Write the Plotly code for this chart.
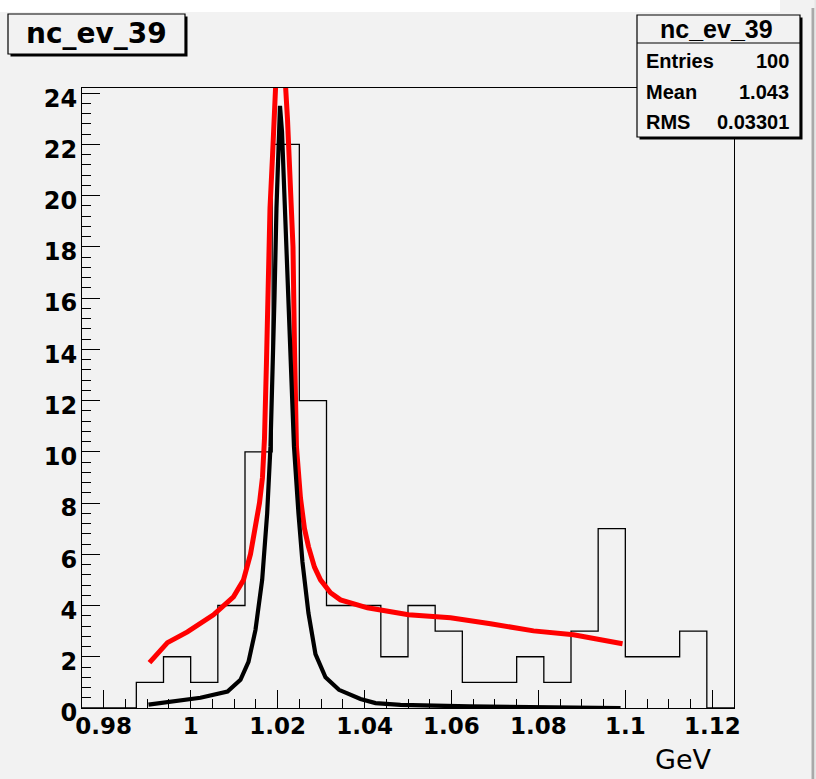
import plotly.graph_objects as go

# ---------------- data ----------------
hist_low = 0.975
hist_bin_width = 0.00625
hist_counts = [0, 0, 1, 2, 1, 4, 10, 22, 12, 4, 4, 2, 4, 3, 1, 1, 2, 1, 3, 7, 2, 2, 3, 0]

red_x = [0.99052, 0.99466, 0.99926, 1.00524, 1.00985, 1.01215, 1.01376, 1.01491,
         1.01583, 1.01652, 1.01698, 1.01744, 1.01778, 1.01825, 1.01882, 1.01928,
         1.01974, 1.02066, 1.02158, 1.02227, 1.02296, 1.02354, 1.02388, 1.02434,
         1.02526, 1.02618, 1.02710, 1.02848, 1.02987, 1.03217, 1.03447, 1.04068,
         1.05012, 1.05978, 1.06899, 1.07888, 1.08808, 1.09936]
red_y = [1.77, 2.55, 2.97, 3.64, 4.34, 5.0, 6.0, 7.0,
         8.0, 9.0, 10.5, 13.5, 17.0, 19.5, 21.5, 23.5,
         25.0, 26.5, 25.0, 23.0, 20.6, 18.0, 14.1, 10.2,
         8.2, 7.0, 6.3, 5.5, 5.0, 4.5, 4.22, 3.91,
         3.64, 3.52, 3.29, 3.01, 2.86, 2.51]

black_x = [0.99029, 1.00225, 1.00847, 1.01146, 1.01330, 1.01491, 1.01645, 1.01760,
           1.01836, 1.01882, 1.01928, 1.01974, 1.02020, 1.02055, 1.02101, 1.02158,
           1.02227, 1.02296, 1.02342, 1.02377, 1.02480, 1.02572, 1.02710, 1.02871,
           1.03102, 1.03412, 1.03907, 1.04252, 1.04827, 1.06415, 1.09890]
black_y = [0.13, 0.40, 0.64, 1.1, 1.8, 3.05, 5.0, 7.6,
           10.2, 12.8, 16.0, 19.5, 22.5, 23.5, 22.5, 20.0,
           16.5, 13.5, 12.0, 10.2, 7.6, 5.7, 3.7, 2.1,
           1.2, 0.71, 0.35, 0.19, 0.12, 0.06, 0.0]

x_tick_vals = [0.98, 1.0, 1.02, 1.04, 1.06, 1.08, 1.1, 1.12]
x_tick_text = ["0.98", "1", "1.02", "1.04", "1.06", "1.08", "1.1", "1.12"]
y_tick_vals = [0, 2, 4, 6, 8, 10, 12, 14, 16, 18, 20, 22, 24]

title_text = "nc_ev_39"
stats_labels = ["Entries", "Mean", "RMS"]
stats_values = ["100", "1.043", "0.03301"]
x_title = "GeV"

x_range = [0.975, 1.125]
y_range = [0, 24.2]

# ---------------- layout geometry ----------------
W, H = 816, 779
ML, MR, MT, MB = 82, 82, 88, 71
PW = W - ML - MR
PH = H - MT - MB


def px(x):
    return (x - ML) / PW


def py(y):
    return (H - MB - y) / PH


edges = [hist_low + hist_bin_width * k for k in range(len(hist_counts) + 1)]
hist_y = hist_counts + [hist_counts[-1]]

fig = go.Figure()
fig.add_trace(go.Scatter(x=edges, y=hist_y, mode="lines", line_shape="hv",
                         line=dict(color="black", width=1.3), hoverinfo="skip",
                         showlegend=False))
fig.add_trace(go.Scatter(x=red_x, y=red_y, mode="lines",
                         line=dict(color="#ff0000", width=5),
                         showlegend=False))
fig.add_trace(go.Scatter(x=black_x, y=black_y, mode="lines",
                         line=dict(color="black", width=4.2),
                         showlegend=False))

BG = "#f2f2f2"
ytickfont = dict(family="DejaVu Sans", size=24, color="black", weight="bold")
xtickfont = dict(family="DejaVu Sans", size=23, color="black", weight="bold")

shapes = []
# white strip at top
shapes.append(dict(type="rect", xref="paper", yref="paper", x0=px(0), x1=px(780),
                   y0=py(0), y1=py(12), fillcolor="white", line=dict(width=0), layer="below"))
# right border band
shapes.append(dict(type="rect", xref="paper", yref="paper", x0=px(811.5), x1=px(814.5),
                   y0=py(8), y1=py(779), fillcolor="#a9a9a9", line=dict(width=0), layer="below"))
shapes.append(dict(type="rect", xref="paper", yref="paper", x0=px(814.5), x1=px(816),
                   y0=py(0), y1=py(779), fillcolor="#e6e6e6", line=dict(width=0), layer="below"))


def box(x0, y0, x1, y1, sh=2.5):
    shapes.append(dict(type="rect", xref="paper", yref="paper", x0=px(x0 + sh), x1=px(x1 + sh),
                       y0=py(y0 + sh), y1=py(y1 + sh), fillcolor="black", line=dict(width=0)))
    shapes.append(dict(type="rect", xref="paper", yref="paper", x0=px(x0), x1=px(x1),
                       y0=py(y0), y1=py(y1), fillcolor=BG, line=dict(color="black", width=1.2)))


box(8, 14, 185, 54)
box(637, 15, 800, 137)
shapes.append(dict(type="line", xref="paper", yref="paper", x0=px(637), x1=px(800),
                   y0=py(43), y1=py(43), line=dict(color="black", width=1.2)))

annotations = []
annotations.append(dict(xref="paper", yref="paper", x=px(96.5), y=py(34), text=title_text,
                        showarrow=False, xanchor="center", yanchor="middle",
                        font=dict(family="DejaVu Sans", size=28, weight="bold", color="black")))
annotations.append(dict(xref="paper", yref="paper", x=px(716), y=py(29), text=title_text,
                        showarrow=False, xanchor="center", yanchor="middle",
                        font=dict(family="Liberation Sans", size=25, weight="bold", color="black")))
row_y = [61, 92, 122]
for lab, val, yy in zip(stats_labels, stats_values, row_y):
    annotations.append(dict(xref="paper", yref="paper", x=px(644), y=py(yy), text=lab,
                            showarrow=False, xanchor="left", yanchor="middle",
                            font=dict(family="Liberation Sans", size=20, weight="bold", color="black")))
    annotations.append(dict(xref="paper", yref="paper", x=px(791), y=py(yy), text=val,
                            showarrow=False, xanchor="right", yanchor="middle",
                            font=dict(family="Liberation Sans", size=20, weight="bold", color="black")))
annotations.append(dict(xref="paper", yref="paper", x=px(714), y=py(759), text=x_title,
                        showarrow=False, xanchor="right", yanchor="middle",
                        font=dict(family="DejaVu Sans", size=27, color="black")))

fig.update_layout(
    width=W, height=H,
    margin=dict(l=ML, r=MR, t=MT, b=MB, pad=0),
    paper_bgcolor=BG, plot_bgcolor=BG,
    shapes=shapes, annotations=annotations,
    showlegend=False,
    xaxis=dict(range=x_range, showgrid=False, zeroline=False,
               showline=True, mirror=True, linecolor="black", linewidth=1.2,
               ticks="inside", ticklen=18, tickwidth=1.2, tickcolor="black",
               tickvals=x_tick_vals, ticktext=x_tick_text, tickfont=xtickfont,
               ticklabelstandoff=-3,
               minor=dict(ticks="inside", ticklen=9, tickwidth=1.2, tickcolor="black",
                          dtick=0.005, tick0=0.98, showgrid=False)),
    yaxis=dict(range=y_range, showgrid=False, zeroline=False,
               showline=True, mirror=True, linecolor="black", linewidth=1.2,
               ticks="inside", ticklen=18, tickwidth=1.2, tickcolor="black",
               tickvals=y_tick_vals, tickfont=ytickfont, ticklabelstandoff=-1,
               ticklabelshift=5,
               minor=dict(ticks="inside", ticklen=9, tickwidth=1.2, tickcolor="black",
                          dtick=0.4, tick0=0, showgrid=False)),
)

fig.write_html(
    "out.html",
    config={"displayModeBar": False},
    post_script="document.body.style.margin='0';document.body.style.background='#f2f2f2';",
)
